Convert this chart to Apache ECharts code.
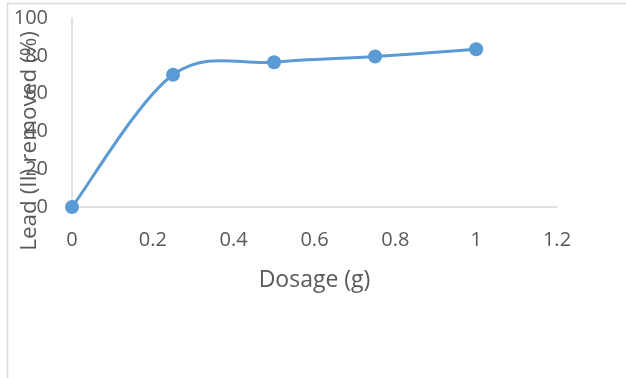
<!DOCTYPE html>
<html>
<head>
<meta charset="utf-8">
<script src="https://cdn.jsdelivr.net/npm/echarts@6/dist/echarts.min.js"></script>
<style>
  html, body { margin: 0; padding: 0; background: #fff; }
  #chart { width: 626px; height: 378px; }
</style>
</head>
<body>
<div id="chart"></div>
<script>
// Lead (II) removal against adsorbent dosage
const dosage = [0, 0.25, 0.5, 0.75, 1];
const removed = [0, 70, 76.6, 79.6, 83.5];
const xTicks = [0, 0.2, 0.4, 0.6, 0.8, 1, 1.2];
const yTicks = [0, 20, 40, 60, 80, 100];

const textColor = '#595959';
const axisColor = '#D9D9D9';
const lineColor = '#5B9BD5';
const fontFamily = '"Open Sans", Lato, sans-serif';

const points = dosage.map((d, i) => [d, removed[i]]);

// Smoothed segment between point i and i+1 (Catmull-Rom style Bezier),
// positioned through the chart's own coordinate system.
function renderSegment(params, api) {
  const i = params.dataIndex;
  if (i >= points.length - 1) return null;
  const at = j => api.coord(points[Math.max(0, Math.min(points.length - 1, j))]);
  const p0 = at(i - 1), p1 = at(i), p2 = at(i + 1), p3 = at(i + 2);
  return {
    type: 'bezierCurve',
    shape: {
      x1: p1[0], y1: p1[1],
      cpx1: p1[0] + (p2[0] - p0[0]) / 6, cpy1: p1[1] + (p2[1] - p0[1]) / 6,
      cpx2: p2[0] - (p3[0] - p1[0]) / 6, cpy2: p2[1] - (p3[1] - p1[1]) / 6,
      x2: p2[0], y2: p2[1]
    },
    style: { stroke: lineColor, lineWidth: 3, fill: 'none', lineCap: 'round' }
  };
}

const chart = echarts.init(document.getElementById('chart'), null, { renderer: 'canvas' });

chart.setOption({
  animation: false,
  backgroundColor: '#ffffff',
  grid: { left: 72, right: 69, top: 18, bottom: 171 },
  graphic: [
    {
      type: 'rect',
      silent: true,
      shape: { x: 7.5, y: 3.5, width: 800, height: 600 },
      style: { fill: 'none', stroke: '#D9D9D9', lineWidth: 1.5 }
    },
    {
      type: 'text',
      silent: true,
      x: 30,
      y: 141,
      rotation: Math.PI / 2,
      style: {
        text: 'Lead (II) removed (%)',
        font: '22.5px ' + fontFamily,
        fill: textColor,
        align: 'center',
        verticalAlign: 'middle'
      }
    }
  ],
  xAxis: {
    type: 'value',
    min: xTicks[0],
    max: xTicks[xTicks.length - 1],
    interval: 0.2,
    name: 'Dosage (g)',
    nameLocation: 'middle',
    nameGap: 62,
    nameTextStyle: { color: textColor, fontSize: 23, fontFamily: fontFamily },
    axisLine: { show: true, lineStyle: { color: axisColor, width: 1.5 } },
    axisTick: { show: false },
    splitLine: { show: false },
    axisLabel: {
      color: textColor, fontSize: 20, fontFamily: fontFamily, margin: 23,
      formatter: v => String(Math.round(v * 10) / 10)
    }
  },
  yAxis: {
    type: 'value',
    min: yTicks[0],
    max: yTicks[yTicks.length - 1],
    interval: 20,
    axisLine: { show: true, lineStyle: { color: axisColor, width: 1.5 } },
    axisTick: { show: false },
    splitLine: { show: false },
    axisLabel: { color: textColor, fontSize: 20, fontFamily: fontFamily, margin: 24 }
  },
  series: [
    {
      type: 'custom',
      renderItem: renderSegment,
      data: points,
      clip: false,
      z: 2
    },
    {
      type: 'scatter',
      data: points,
      symbol: 'circle',
      symbolSize: 14,
      itemStyle: { color: lineColor, opacity: 1 },
      z: 3
    }
  ]
});
</script>
</body>
</html>
